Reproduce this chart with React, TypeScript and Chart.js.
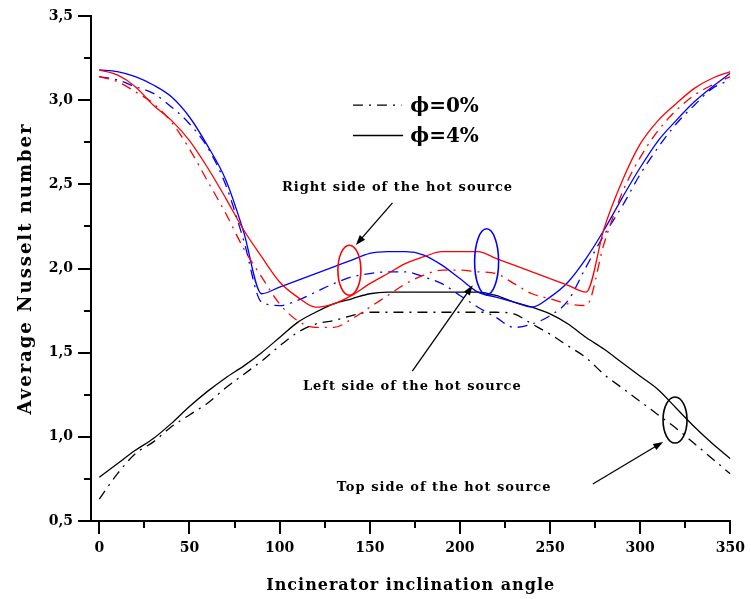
import React, { useEffect, useRef } from 'react';
import { Chart, registerables } from 'chart.js';

Chart.register(...registerables);

// ---------- DATA ----------
const angles = [0, 10, 20, 30, 40, 50, 60, 70, 80, 90, 100, 110, 120, 130, 140, 150, 160, 170, 180, 190, 200, 210, 220, 230, 240, 250, 260, 270, 280, 290, 300, 310, 320, 330, 340, 350];

// Right side of the hot source (red)
const rightPhi0 = [3.14, 3.11, 3.05, 2.98, 2.87, 2.71, 2.52, 2.33, 2.12, 1.95, 1.79, 1.69, 1.65, 1.65, 1.70, 1.77, 1.84, 1.91, 1.96, 1.99, 1.99, 1.98, 1.97, 1.91, 1.85, 1.82, 1.79, 1.78, 2.15, 2.45, 2.66, 2.82, 2.94, 3.03, 3.09, 3.14];
const rightPhi4 = [3.18, 3.15, 3.08, 2.97, 2.88, 2.76, 2.60, 2.42, 2.23, 2.07, 1.92, 1.83, 1.77, 1.79, 1.84, 1.91, 1.97, 2.03, 2.07, 2.10, 2.10, 2.10, 2.06, 2.02, 1.98, 1.94, 1.90, 1.86, 2.24, 2.52, 2.74, 2.88, 2.98, 3.07, 3.13, 3.17];

// Left side of the hot source (blue)
const leftPhi0 = [3.14, 3.12, 3.08, 3.04, 2.96, 2.86, 2.72, 2.50, 2.17, 1.80, 1.78, 1.81, 1.86, 1.91, 1.95, 1.97, 1.98, 1.98, 1.95, 1.91, 1.84, 1.77, 1.71, 1.65, 1.67, 1.72, 1.81, 2.01, 2.20, 2.37, 2.56, 2.72, 2.86, 2.97, 3.07, 3.12];
const leftPhi4 = [3.18, 3.17, 3.14, 3.09, 3.02, 2.90, 2.73, 2.53, 2.22, 1.85, 1.89, 1.93, 1.97, 2.01, 2.05, 2.09, 2.10, 2.10, 2.08, 2.02, 1.94, 1.86, 1.83, 1.80, 1.77, 1.83, 1.92, 2.06, 2.23, 2.42, 2.60, 2.76, 2.88, 2.99, 3.08, 3.16];

// Top side of the hot source (black)
const topPhi0 = [0.63, 0.78, 0.90, 0.97, 1.06, 1.13, 1.20, 1.29, 1.37, 1.45, 1.54, 1.62, 1.67, 1.69, 1.72, 1.74, 1.74, 1.74, 1.74, 1.74, 1.74, 1.74, 1.74, 1.73, 1.67, 1.61, 1.54, 1.47, 1.37, 1.29, 1.21, 1.13, 1.05, 0.96, 0.87, 0.78];
const topPhi4 = [0.76, 0.84, 0.92, 0.99, 1.08, 1.18, 1.27, 1.35, 1.42, 1.50, 1.59, 1.68, 1.74, 1.79, 1.82, 1.85, 1.86, 1.86, 1.86, 1.86, 1.86, 1.86, 1.84, 1.80, 1.77, 1.73, 1.67, 1.59, 1.52, 1.44, 1.36, 1.28, 1.17, 1.06, 0.96, 0.87];

const xTickValues = [0, 50, 100, 150, 200, 250, 300, 350];
const xMinorTicks = [25, 75, 125, 175, 225, 275, 325];
const yTickValues = [0.5, 1.0, 1.5, 2.0, 2.5, 3.0, 3.5];
const yMinorTicks = [0.75, 1.25, 1.75, 2.25, 2.75, 3.25];

const legendLabels = ['\u03d5=0%', '\u03d5=4%'];
const xTitle = 'Incinerator inclination angle';
const yTitle = 'Average Nusselt number';
const noteRight = 'Right side of the hot source';
const noteLeft = 'Left side of the hot source';
const noteTop = 'Top side of the hot source';

const FONT = '"DejaVu Serif", "Liberation Serif", serif';
const DASH_DOT = [10, 6, 2, 6];

export default function App() {
  const ref = useRef<HTMLCanvasElement>(null);

  useEffect(() => {
    const canvas = ref.current;
    if (!canvas) return;
    const mk = (vals: number[]) => angles.map((a, i) => ({ x: a, y: vals[i] }));

    const ds = (vals: number[], color: string, dashed: boolean) => ({
      data: mk(vals),
      borderColor: color,
      backgroundColor: color,
      borderWidth: 1.3,
      borderDash: dashed ? DASH_DOT : [],
      pointRadius: 0,
      fill: false,
      cubicInterpolationMode: 'monotone' as const,
    });

    const overlay = {
      id: 'overlay',
      afterDraw(chart: any) {
        const ctx = chart.ctx as any;
        const xs = chart.scales.x;
        const ys = chart.scales.y;
        const area = chart.chartArea;
        const px = (v: number) => xs.getPixelForValue(v);
        const py = (v: number) => ys.getPixelForValue(v);
        ctx.save();
        // tick marks
        ctx.strokeStyle = '#000';
        ctx.lineWidth = 2;
        ctx.beginPath();
        xTickValues.forEach((v) => { const x = Math.round(px(v)); ctx.moveTo(x, area.bottom); ctx.lineTo(x, area.bottom + 13); });
        xMinorTicks.forEach((v) => { const x = Math.round(px(v)); ctx.moveTo(x, area.bottom); ctx.lineTo(x, area.bottom + 7); });
        yTickValues.forEach((v) => { const y = Math.round(py(v)); ctx.moveTo(area.left, y); ctx.lineTo(area.left - 13, y); });
        yMinorTicks.forEach((v) => { const y = Math.round(py(v)); ctx.moveTo(area.left, y); ctx.lineTo(area.left - 7, y); });
        ctx.stroke();

        // axis titles
        ctx.fillStyle = '#000';
        ctx.textBaseline = 'middle';
        ctx.textAlign = 'center';
        ctx.font = 'bold 16px ' + FONT;
        ctx.letterSpacing = '1px';
        ctx.fillText(xTitle, (area.left + area.right) / 2, 586);
        ctx.save();
        ctx.translate(26, (area.top + area.bottom) / 2);
        ctx.rotate(-Math.PI / 2);
        ctx.font = 'bold 18px ' + FONT;
        ctx.letterSpacing = '2px';
        ctx.fillText(yTitle, 0, 0);
        ctx.restore();
        ctx.letterSpacing = '0px';

        // legend
        ctx.lineWidth = 1.3;
        ctx.strokeStyle = '#000';
        ctx.setLineDash(DASH_DOT);
        ctx.beginPath();
        ctx.moveTo(px(140.7), py(2.97));
        ctx.lineTo(px(167.6), py(2.97));
        ctx.stroke();
        ctx.setLineDash([]);
        ctx.beginPath();
        ctx.moveTo(px(140.7), py(2.79));
        ctx.lineTo(px(168.5), py(2.79));
        ctx.stroke();
        ctx.font = 'bold 20px ' + FONT;
        ctx.textAlign = 'left';
        ctx.fillText(legendLabels[0], px(172.5), py(2.96));
        ctx.fillText(legendLabels[1], px(172.5), py(2.78));

        // notes
        ctx.font = 'bold 13px ' + FONT;
        ctx.letterSpacing = '1px';
        ctx.textAlign = 'center';
        ctx.fillText(noteRight, px(165.4), py(2.48));
        ctx.fillText(noteLeft, px(173.6), py(1.30));
        ctx.fillText(noteTop, px(191.2), py(0.70));
        ctx.letterSpacing = '0px';

        const arrow = (x1: number, y1: number, x2: number, y2: number) => {
          const ax = px(x1), ay = py(y1), bx = px(x2), by = py(y2);
          const ang = Math.atan2(by - ay, bx - ax);
          const L = 10, W = 3.5;
          ctx.strokeStyle = '#000';
          ctx.lineWidth = 1.3;
          ctx.beginPath();
          ctx.moveTo(ax, ay);
          ctx.lineTo(bx - Math.cos(ang) * L * 0.6, by - Math.sin(ang) * L * 0.6);
          ctx.stroke();
          ctx.beginPath();
          ctx.moveTo(bx, by);
          ctx.lineTo(bx - Math.cos(ang) * L - Math.sin(ang) * W, by - Math.sin(ang) * L + Math.cos(ang) * W);
          ctx.lineTo(bx - Math.cos(ang) * L + Math.sin(ang) * W, by - Math.sin(ang) * L - Math.cos(ang) * W);
          ctx.closePath();
          ctx.fill();
        };
        arrow(162.6, 2.39, 142.3, 2.14);
        arrow(173.6, 1.39, 207.1, 1.90);
        arrow(273.7, 0.72, 312.7, 0.97);

        const ellipse = (cx: number, cy: number, rx: number, ry: number, color: string) => {
          ctx.strokeStyle = color;
          ctx.lineWidth = 1.6;
          ctx.beginPath();
          ctx.ellipse(px(cx), py(cy), rx, ry, 0, 0, Math.PI * 2);
          ctx.stroke();
        };
        ellipse(138.7, 1.99, 11.5, 25, '#ff0000');
        ellipse(214.8, 2.04, 12, 33, '#0000ff');
        ellipse(319.3, 1.10, 12, 23, '#000000');
        ctx.restore();
      },
    };

    const chart = new Chart(canvas, {
      type: 'line',
      data: {
        datasets: [
          ds(rightPhi0, '#ff0000', true),
          ds(rightPhi4, '#ff0000', false),
          ds(leftPhi0, '#0000ff', true),
          ds(leftPhi4, '#0000ff', false),
          ds(topPhi0, '#000000', true),
          ds(topPhi4, '#000000', false),
        ] as any,
      },
      options: {
        animation: false,
        responsive: false,
        maintainAspectRatio: false,
        layout: { padding: { left: 0, right: 15, top: 16, bottom: 0 } },
        plugins: { legend: { display: false }, tooltip: { enabled: false } },
        scales: {
          x: {
            type: 'linear',
            min: -4.6,
            max: 350,
            afterBuildTicks: (s: any) => { s.ticks = xTickValues.map((v) => ({ value: v })); },
            afterFit: (s: any) => { s.height = 78; },
            ticks: {
              autoSkip: false,
              maxRotation: 0,
              padding: 6,
              color: '#000',
              font: { family: FONT, size: 14, weight: 'bold' },
              callback: (v: any) => String(v),
            },
            grid: { display: true, drawOnChartArea: false, drawTicks: true, tickLength: 13, tickColor: 'rgba(0,0,0,0)' },
            border: { display: true, color: '#000', width: 2 },
            title: { display: false },
          },
          y: {
            type: 'linear',
            min: 0.5,
            max: 3.5,
            afterBuildTicks: (s: any) => { s.ticks = yTickValues.map((v) => ({ value: v })); },
            afterFit: (s: any) => { s.width = 91; },
            ticks: {
              padding: 5,
              color: '#000',
              font: { family: FONT, size: 14, weight: 'bold' },
              callback: (v: any) => Number(v).toFixed(1).replace('.', ','),
            },
            grid: { display: true, drawOnChartArea: false, drawTicks: true, tickLength: 13, tickColor: 'rgba(0,0,0,0)' },
            border: { display: true, color: '#000', width: 2 },
            title: { display: false },
          },
        },
      } as any,
      plugins: [overlay],
    });
    return () => chart.destroy();
  }, []);

  return (
    <div style={{ position: 'absolute', left: 0, top: 0, width: 751, height: 599, background: '#fff' }}>
      <canvas ref={ref} width={751} height={599} style={{ display: 'block' }} />
    </div>
  );
}
